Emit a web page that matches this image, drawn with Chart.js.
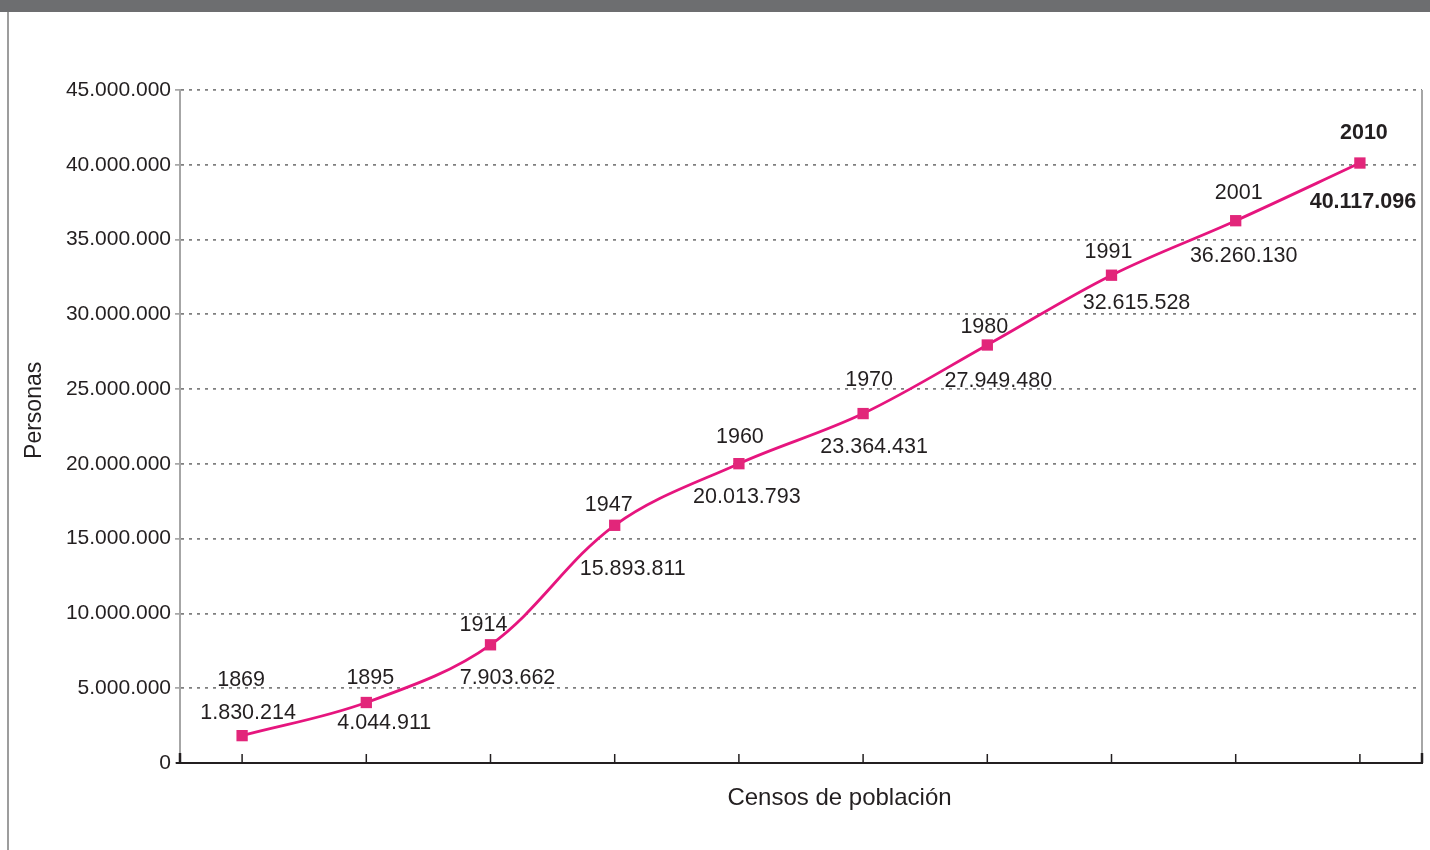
<!DOCTYPE html>
<html>
<head>
<meta charset="utf-8">
<script src="https://cdn.jsdelivr.net/npm/chart.js@4/dist/chart.umd.min.js"></script>
<style>
html,body{margin:0;padding:0;background:#fff;}
#wrap{position:relative;width:1430px;height:850px;}
</style>
</head>
<body>
<div id="wrap"><canvas id="c" width="1430" height="850"></canvas></div>
<script>
// ---- data ----
const years = ['1869','1895','1914','1947','1960','1970','1980','1991','2001','2010'];
const population = [1830214, 4044911, 7903662, 15893811, 20013793, 23364431, 27949480, 32615528, 36260130, 40117096];
const yTickMax = 45000000;
const yTickStep = 5000000;
const xAxisTitle = 'Censos de población';
const yAxisTitle = 'Personas';

// ---- label placement (styling, relative to each point) ----
const yearOffsets  = [[-1,-56],[4,-24],[-7,-20],[-6,-20],[1,-27],[6,-33],[-3,-18],[-3,-23],[3,-28],[4,-30]];
const valueOffsets = [[6,-23],[18,21],[17,33],[18,44],[8,33],[11,34],[11,36],[25,28],[8,35],[3,39]];
const boldIndex = 9;

const FONT = "'Liberation Sans', Arial, Helvetica, sans-serif";
const TEXT = '#231f20';

function fmt(v){ return String(Math.round(v)).replace(/\B(?=(\d{3})+(?!\d))/g,'.'); }

const frame = {
  id:'frame',
  beforeDraw(chart){
    const ctx = chart.ctx;
    ctx.save();
    ctx.fillStyle = '#fff';
    ctx.fillRect(0,0,chart.width,chart.height);
    ctx.fillStyle = '#6d6e70';
    ctx.fillRect(0,0,chart.width,12);
    ctx.fillStyle = '#9d9d9d';
    ctx.fillRect(7,12,2,chart.height-12);
    ctx.restore();
  },
  afterDatasetsDraw(chart){
    const ctx = chart.ctx;
    const ca = chart.chartArea;
    const xs = chart.scales.x;
    const ys = chart.scales.y;
    ctx.save();
    // right border
    ctx.strokeStyle = '#a6a6a6';
    ctx.lineWidth = 2;
    ctx.beginPath(); ctx.moveTo(ca.right, ys.getPixelForValue(yTickMax)); ctx.lineTo(ca.right, ca.bottom); ctx.stroke();
    // x axis line
    ctx.strokeStyle = '#231f20';
    ctx.lineWidth = 2;
    ctx.beginPath(); ctx.moveTo(ca.left-4, ca.bottom); ctx.lineTo(ca.right+1, ca.bottom); ctx.stroke();
    // end ticks
    ctx.lineWidth = 2.5;
    [ca.left, ca.right].forEach(x=>{ ctx.beginPath(); ctx.moveTo(x, ca.bottom); ctx.lineTo(x, ca.bottom-10); ctx.stroke(); });
    // category ticks at each census, pointing up
    ctx.lineWidth = 1.5;
    years.forEach((y,i)=>{
      const x = xs.getPixelForValue(i);
      ctx.beginPath(); ctx.moveTo(x, ca.bottom); ctx.lineTo(x, ca.bottom-9); ctx.stroke();
    });
    // axis titles
    ctx.fillStyle = TEXT;
    ctx.textAlign = 'center';
    ctx.textBaseline = 'middle';
    ctx.font = '24px ' + FONT;
    ctx.fillText(xAxisTitle, ca.left + (ca.right-ca.left)*0.531, ca.bottom + 35);
    ctx.save();
    ctx.translate(35, ca.top + (ca.bottom-ca.top)*0.476);
    ctx.rotate(-Math.PI/2);
    ctx.font = '23px ' + FONT;
    ctx.fillText(yAxisTitle, 0, 0);
    ctx.restore();
    // data labels
    const meta = chart.getDatasetMeta(0);
    meta.data.forEach((pt,i)=>{
      const bold = i===boldIndex;
      ctx.font = (bold?'bold ':'') + '21.5px ' + FONT;
      ctx.fillText(years[i], pt.x+yearOffsets[i][0], pt.y+yearOffsets[i][1]);
      ctx.fillText(fmt(population[i]), pt.x+valueOffsets[i][0], pt.y+valueOffsets[i][1]);
    });
    ctx.restore();
  }
};

new Chart(document.getElementById('c'), {
  type:'line',
  data:{
    labels: years,
    datasets:[{
      data: population,
      borderColor:'#e6157e',
      borderWidth:2.8,
      tension:0.35,
      pointStyle:'rect',
      pointRadius:8,
      pointHoverRadius:8,
      pointBackgroundColor:'#e2267a',
      pointBorderWidth:0,
      fill:false
    }]
  },
  plugins:[frame],
  options:{
    responsive:false,
    animation:false,
    events:[],
    layout:{padding:{left:0,top:90,right:8,bottom:0}},
    plugins:{legend:{display:false},tooltip:{enabled:false}},
    scales:{
      x:{
        type:'category',
        offset:true,
        grid:{display:false, drawTicks:false},
        border:{display:false},
        ticks:{display:false},
        afterFit(s){ s.height = 87; }
      },
      y:{
        min:0,max:yTickMax,
        ticks:{stepSize:yTickStep,color:TEXT,font:{family:FONT,size:21},padding:4,callback:(v)=>fmt(v)},
        grid:{color:'#7f7f7f',lineWidth:1.8,tickLength:5,tickColor:'#9a9a9a',tickBorderDash:[],tickWidth:1.5,drawOnChartArea:true},
        border:{display:true,color:'#a6a6a6',width:2,dash:[3,5]},
        afterFit(s){ s.width = 180; }
      }
    }
  }
});
</script>
</body>
</html>
